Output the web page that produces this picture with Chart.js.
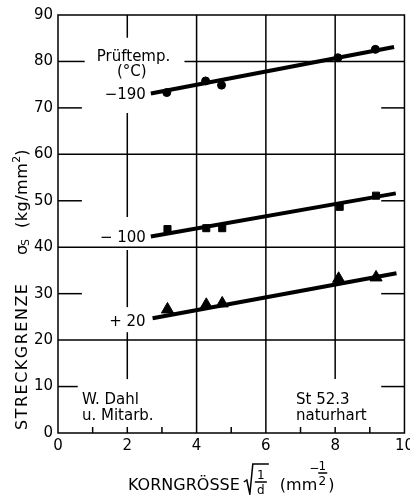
<!DOCTYPE html>
<html><head><meta charset="utf-8">
<script src="https://cdn.jsdelivr.net/npm/chart.js@4"></script>
<style>html,body{margin:0;padding:0;background:#fff;overflow:hidden}#wrap{width:418px;height:495px}</style>
</head><body><div id="wrap"><canvas id="c" width="418" height="495"></canvas></div>
<script>
// ---- data ----
const xTicks = [0, 2, 4, 6, 8, 10];
const yTicks = [0, 10, 20, 30, 40, 50, 60, 70, 80, 90];
const tempLabels = ['\u2212190', '\u2212 100', '+ 20'];
// measured points (grain size, yield stress)
const grainX_m190 = [3.14, 4.26, 4.72, 8.08, 9.16];
const sigma_m190  = [73.3, 75.8, 74.9, 80.8, 82.6];
const grainX_m100 = [3.16, 4.28, 4.74, 8.13, 9.18];
const sigma_m100  = [43.9, 44.1, 44.1, 48.7, 51.1];
const grainX_p20  = [3.16, 4.28, 4.74, 8.10, 9.18];
const sigma_p20   = [26.6, 27.6, 27.9, 33.2, 33.5];
// fitted straight lines (start, end)
const fitX_m190 = [2.68, 9.70]; const fitY_m190 = [73.1, 83.1];
const fitX_m100 = [2.68, 9.75]; const fitY_m100 = [42.3, 51.6];
const fitX_p20  = [2.73, 9.77]; const fitY_p20  = [24.7, 34.4];

const FONT = '"DejaVu Sans", sans-serif';
const toPts = (xs, ys) => xs.map((x, i) => ({x: x, y: ys[i]}));

const gridPlugin = {
  id: 'gridPlugin',
  beforeDatasetsDraw(chart) {
    const {ctx, chartArea: a, scales: {x, y}} = chart;
    ctx.save();
    ctx.strokeStyle = '#000';
    ctx.lineWidth = 1.5;
    const vseg = (xv, y0, y1) => { ctx.beginPath(); ctx.moveTo(x.getPixelForValue(xv), y.getPixelForValue(y0)); ctx.lineTo(x.getPixelForValue(xv), y.getPixelForValue(y1)); ctx.stroke(); };
    const hseg = (yv, x0, x1) => { ctx.beginPath(); ctx.moveTo(x.getPixelForValue(x0), y.getPixelForValue(yv)); ctx.lineTo(x.getPixelForValue(x1), y.getPixelForValue(yv)); ctx.stroke(); };
    [[90, 85.1], [68.9, 46.5], [39.4, 27.1], [21.7, 11.6], [1.3, 0]].forEach(s => vseg(2, s[0], s[1]));
    vseg(4, 0, 90); vseg(6, 0, 90);
    vseg(8, 90, 11.6); vseg(8, 1.3, 0);
    [20, 40, 60].forEach(v => hseg(v, 0, 10));
    hseg(80, 0, 0.77); hseg(80, 3.65, 10);
    [70, 50, 30].forEach(v => { hseg(v, 0, 0.69); hseg(v, 9.33, 10); });
    hseg(10, 0, 0.57); hseg(10, 9.33, 10);
    [1, 3, 5, 7, 9].forEach(v => { const px = x.getPixelForValue(v); ctx.beginPath(); ctx.moveTo(px, a.bottom); ctx.lineTo(px, a.bottom - 6); ctx.stroke(); });
    ctx.strokeRect(a.left, a.top, a.right - a.left, a.bottom - a.top);
    ctx.restore();
  }
};

const textPlugin = {
  id: 'textPlugin',
  afterDraw(chart) {
    const {ctx, scales: {x, y}} = chart;
    ctx.save();
    ctx.fillStyle = '#000';
    ctx.textBaseline = 'middle';
    ctx.font = '15px ' + FONT;
    ctx.textAlign = 'center';
    ctx.fillText('Pr\u00fcftemp.', x.getPixelForValue(2.18), y.getPixelForValue(81.0));
    ctx.fillText('(\u00b0C)', x.getPixelForValue(2.13), y.getPixelForValue(77.7));
    ctx.textAlign = 'right';
    ctx.fillText(tempLabels[0], x.getPixelForValue(fitX_m190[0]) - 5, y.getPixelForValue(fitY_m190[0] - 0.3));
    ctx.fillText(tempLabels[1], x.getPixelForValue(fitX_m100[0]) - 5, y.getPixelForValue(fitY_m100[0] - 0.3));
    ctx.fillText(tempLabels[2], x.getPixelForValue(fitX_p20[0]) - 7, y.getPixelForValue(fitY_p20[0] - 0.8));
    ctx.textAlign = 'left';
    ctx.fillText('W. Dahl', x.getPixelForValue(0.69), y.getPixelForValue(7.1));
    ctx.fillText('u. Mitarb.', x.getPixelForValue(0.69), y.getPixelForValue(3.6));
    ctx.fillText('St 52.3', x.getPixelForValue(6.87), y.getPixelForValue(7.1));
    ctx.fillText('naturhart', x.getPixelForValue(6.87), y.getPixelForValue(3.6));

    // y axis title (rotated); local x = -screenY
    const big = '16px ' + FONT, small = '11px ' + FONT;
    ctx.save();
    ctx.translate(27, 0);
    ctx.rotate(-Math.PI / 2);
    ctx.textAlign = 'left';
    ctx.textBaseline = 'alphabetic';
    ctx.font = big;
    ctx.letterSpacing = '1.5px';
    ctx.fillText('STRECKGRENZE', -430, 0);
    ctx.letterSpacing = '0px';
    ctx.fillText('\u03c3', -255, 0);
    ctx.font = small;
    ctx.fillText('S', -246, 2);
    ctx.font = big;
    ctx.letterSpacing = '0.5px';
    ctx.fillText('(kg/mm', -228, 0);
    const w = ctx.measureText('(kg/mm').width;
    ctx.font = small;
    ctx.fillText('2', -228 + w, -7);
    ctx.font = big;
    ctx.fillText(')', -228 + w + 7, 0);
    ctx.restore();

    // x axis title
    ctx.textAlign = 'left';
    ctx.textBaseline = 'alphabetic';
    ctx.font = big;
    const base = 490;
    let px = 128;
    ctx.fillText('KORNGR\u00d6SSE', px, base);
    px += ctx.measureText('KORNGR\u00d6SSE').width + 4;
    ctx.lineWidth = 1.5;
    ctx.strokeStyle = '#000';
    ctx.beginPath();
    ctx.moveTo(px, base - 8);
    ctx.lineTo(px + 3, base - 10);
    ctx.lineTo(px + 6, base + 4);
    ctx.lineTo(px + 9, base - 26);
    ctx.lineTo(px + 25, base - 26);
    ctx.stroke();
    ctx.font = '12px ' + FONT;
    ctx.textAlign = 'center';
    ctx.fillText('1', px + 17, base - 11);
    ctx.fillText('d', px + 17, base + 4);
    ctx.beginPath(); ctx.moveTo(px + 11, base - 8); ctx.lineTo(px + 23, base - 8); ctx.stroke();
    px += 36;
    ctx.textAlign = 'left';
    ctx.font = big;
    ctx.fillText('(mm', px, base);
    px += ctx.measureText('(mm').width;
    ctx.font = '12px ' + FONT;
    ctx.textAlign = 'center';
    ctx.fillText('\u2212', px - 3, base - 18);
    ctx.fillText('1', px + 5, base - 20);
    ctx.fillText('2', px + 5, base - 5);
    ctx.beginPath(); ctx.moveTo(px + 1, base - 17); ctx.lineTo(px + 10, base - 17); ctx.stroke();
    ctx.textAlign = 'left';
    ctx.font = big;
    ctx.fillText(')', px + 11, base);
    ctx.restore();
  }
};

const fitDS = (xs, ys) => ({data: toPts(xs, ys), showLine: true, borderColor: '#000', borderWidth: 4, pointRadius: 0, order: 2});
const ptDS = (xs, ys, style, r) => ({data: toPts(xs, ys), pointStyle: style, pointRadius: r, backgroundColor: '#000', borderColor: '#000', borderWidth: 1, showLine: false, order: 1});

new Chart(document.getElementById('c'), {
  type: 'scatter',
  data: {datasets: [
    fitDS(fitX_m190, fitY_m190), fitDS(fitX_m100, fitY_m100), fitDS(fitX_p20, fitY_p20),
    ptDS(grainX_m190, sigma_m190, 'circle', 4),
    ptDS(grainX_m100, sigma_m100, 'rect', 5),
    ptDS(grainX_p20, sigma_p20, 'triangle', 7)
  ]},
  options: {
    responsive: false, animation: false, devicePixelRatio: 1,
    layout: {padding: {top: 15, right: 9, left: 0, bottom: 0}},
    plugins: {legend: {display: false}, tooltip: {enabled: false}},
    scales: {
      x: {type: 'linear', min: 0, max: 10,
          afterBuildTicks: s => { s.ticks = xTicks.map(v => ({value: v})); },
          grid: {display: false, drawTicks: false, tickLength: 0}, border: {display: false},
          ticks: {color: '#000', font: {family: FONT, size: 15}, padding: 4, maxRotation: 0},
          afterFit: s => { s.height = 62; }},
      y: {type: 'linear', min: 0, max: 90,
          afterBuildTicks: s => { s.ticks = yTicks.map(v => ({value: v})); },
          grid: {display: false, drawTicks: false, tickLength: 0}, border: {display: false},
          ticks: {color: '#000', font: {family: FONT, size: 15}, padding: 5},
          afterFit: s => { s.width = 58; }}
    }
  },
  plugins: [gridPlugin, textPlugin]
});
</script>
</body></html>
